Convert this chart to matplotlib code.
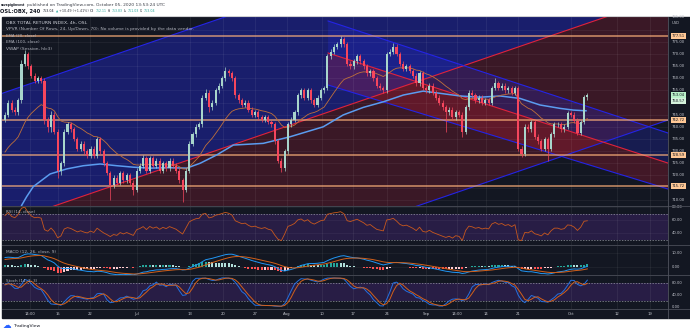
import numpy as np
import matplotlib
matplotlib.use("Agg")
import matplotlib.pyplot as plt
from matplotlib.patches import Polygon

# ---------------- data ----------------
closes = [745, 750, 747, 746, 751, 766, 770, 765, 761, 759,
          760, 759, 743, 740, 745, 738, 722, 725, 738, 741,
          739, 735, 731, 733, 730, 728, 731, 728, 735, 730,
          725, 721, 716, 719, 717, 721, 718, 720, 717, 714,
          722, 724, 727, 722, 727, 724, 726, 722, 725, 723,
          726, 724, 722, 718, 714, 722, 733, 737, 740, 741,
          752, 754, 748, 750, 755, 757, 760, 763, 762, 760,
          753, 751, 749, 750, 747, 745, 746, 744, 743, 744,
          742, 741, 734, 726, 723, 730, 741, 743, 746, 753,
          755, 752, 755, 751, 749, 752, 755, 756, 769, 771,
          773, 774, 776, 774, 766, 765, 767, 769, 767, 765,
          762, 763, 760, 757, 756, 755, 770, 771, 773, 770,
          766, 764, 765, 763, 761, 758, 762, 756, 755, 757,
          754, 752, 750, 748, 746, 747, 744, 746, 745, 738,
          748, 754, 753, 751, 752, 750, 751, 750, 756, 758,
          756, 757, 755, 756, 754, 756, 731, 729, 740, 739,
          742, 736, 734, 731, 735, 731, 737, 741, 741, 739,
          740, 745.5, 745, 742.5, 737.5, 742, 752.11, 753.04]
first_open = 743.0
up_wick = [1, 1, 1, 1, 1, 1.5, 1.5, 1, 1, 1,
           1, 1, 1, 1, 1.5, 1, 1, 1, 1, 1,
           1, 1, 1, 1, 1, 1, 1, 1, 1, 1,
           1, 1, 1, 1, 1, 1, 1, 1, 1, 1,
           1, 1, 1.5, 1, 1, 1, 1, 1, 1, 1,
           1, 1, 1, 1, 1, 1, 1, 1, 1, 1,
           1, 1.5, 1, 1, 1, 1, 1, 1.5, 1, 1,
           1, 1, 1, 1, 1, 1, 1, 1, 1, 1,
           1, 1, 1, 1, 1, 1, 1, 1, 1, 1,
           1, 1, 1, 1, 1, 1, 1, 1, 1, 1,
           1, 1, 1.2, 1, 1, 1, 1, 1, 1, 1,
           1, 1, 1, 1, 1, 1, 1, 1, 1.5, 1,
           1, 1, 1, 1, 1, 1, 1, 1, 1, 1,
           1, 1, 1, 1, 1, 1, 1, 1, 1, 1,
           1, 1, 1, 1, 1, 1, 1, 1, 1, 2,
           1, 1, 1, 1, 1, 1, 1, 1, 1, 1,
           1, 1, 1, 1, 1, 1, 1, 1, 1, 1,
           1, 1, 1, 1, 1, 1, 1, 0.79]
dn_wick = [1, 1, 1, 1, 1, 1, 1, 1, 1, 1,
           1, 1, 2, 2, 2, 1, 3, 2, 1, 1,
           1, 1, 1, 1, 1, 1, 1, 1, 1, 1,
           1, 1, 6, 1, 1, 1, 1, 1, 1, 2,
           1, 1, 1, 1, 1, 1, 1, 1, 1, 1,
           1, 1, 1, 1, 5, 1, 1, 1, 1, 1,
           1, 1, 2, 1, 1, 1, 1, 1, 1, 1,
           1, 1, 1, 1, 1, 1, 1, 1, 1, 1,
           1, 1, 1, 1, 1.5, 1, 1, 1, 1, 1,
           1, 1, 1, 1, 1, 1, 1, 1, 1, 1,
           1, 1, 1, 1, 1, 1, 1, 1, 1, 1,
           1, 1, 1, 1, 1, 1, 1, 1, 1, 1,
           1, 1, 1, 1, 1, 1, 1, 1, 1, 1,
           1, 1, 1, 1, 8, 1, 1, 1, 1, 2,
           1, 1, 1, 1, 1, 1, 1, 1, 1, 1,
           1, 1, 1, 1, 1, 1, 1, 1.5, 1, 1,
           1, 1, 1, 1, 1, 5, 1, 1, 1, 1,
           1, 1, 1, 1, 1, 1, 1, 1.08]

ema100_bar = [3.5, 5.1, 6.6, 8.6, 13.7, 18.8, 23.8, 28.9, 34.0, 39.0, 44.1, 49.1,
              55.2, 59.3, 64.3, 69.4, 78.5, 86.6, 96.7, 102.8, 108.9, 115.0, 121.1,
              127.1, 132.2, 138.3, 144.4, 150.5, 156.5, 162.6, 168.7, 172.7, 176.6]
ema100_val = [702.5, 707.8, 711.3, 715.4, 720.6, 722.7, 724.0, 724.7, 724.0, 723.4, 723.0, 723.2,
              723.0, 725.0, 728.4, 732.5, 733.2, 735.9, 740.0, 744.9, 748.0, 750.3, 753.1,
              754.7, 753.8, 752.7, 752.2, 752.7, 751.7, 749.0, 747.6, 746.9, 746.6]

ema20_seed = 728.0
ema12_seed, ema26_seed, signal_seed = 740.0, 733.0, 5.0
rsi_gain_seed, rsi_loss_seed = 1.5, 0.8

levels = [777.51, 742.72, 728.59, 715.72]

asc_x = [-2, 203]
asc_upper = [753.27, 848.37]
asc_mid = [699.57, 794.67]
asc_lower = [648.37, 743.47]

desc_x = [98.2, 203]
desc_upper = [783.56, 736.80]
desc_mid = [770.39, 724.44]
desc_lower = [757.22, 713.80]

tick_pos = [7.6, 16.1, 25.8, 40.1, 56.2, 66.3, 76.0, 85.7, 96.4, 105.8,
            116.1, 128.0, 137.4, 146.2, 155.9, 172.0, 186.0, 196.0]
tick_lab = ['14:00', '15', '22', 'Jul', '13', '20', '27', 'Aug', '10', '17',
            '24', 'Sep', '14:00', '14', '21', 'Oct', '12', '19']

price_labels = [785, 775, 770, 765, 760, 755, 745, 740, 735, 730, 725, 720, 710]
price_grid = list(range(710, 790, 5))
rsi_labels = [80, 60, 40]
macd_labels = [10, 0]
stoch_labels = [80, 40, 0]

# ---------------- derived series ----------------
c = np.array(closes, float)
n = len(c)
idx = np.arange(n)
o = np.concatenate([[first_open], c[:-1]])
h = np.maximum(o, c) + np.array(up_wick)
l = np.minimum(o, c) - np.array(dn_wick)

def ema(x, span, seed):
    a = 2.0 / (span + 1)
    out = np.empty(len(x)); v = seed
    for i, xv in enumerate(x):
        v = a * xv + (1 - a) * v
        out[i] = v
    return out

ema20 = ema(c, 20, ema20_seed)
macd = ema(c, 12, ema12_seed) - ema(c, 26, ema26_seed)
signal = ema(macd, 9, signal_seed)
hist = macd - signal

ag, al = rsi_gain_seed, rsi_loss_seed
rsi = np.empty(n)
prev = first_open
for i in range(n):
    d = c[i] - prev; prev = c[i]
    ag = (ag * 13 + max(d, 0)) / 14
    al = (al * 13 + max(-d, 0)) / 14
    rsi[i] = 100 - 100 / (1 + ag / al)

raw = np.empty(n)
for i in range(n):
    lo = l[max(0, i - 13):i + 1].min(); hi = h[max(0, i - 13):i + 1].max()
    raw[i] = 100 * (c[i] - lo) / (hi - lo)
def sma(x, k):
    return np.array([x[max(0, i - k + 1):i + 1].mean() for i in range(len(x))])
stk = sma(raw, 3)
std = sma(stk, 3)

# ---------------- figure ----------------
W, H = 690, 332
fig = plt.figure(figsize=(W / 100, H / 100), dpi=100)
fig.patch.set_facecolor('white')
BG = '#131722'
bgrect = plt.Rectangle((2 / W, 1 - 318 / H), 688 / W, 301 / H,
                       transform=fig.transFigure, color=BG, zorder=-5)
fig.add_artist(bgrect)

X0, X1 = 2, 668
def add_ax(y0, y1):
    ax = fig.add_axes([X0 / W, 1 - y1 / H, (X1 - X0) / W, (y1 - y0) / H])
    ax.set_facecolor(BG)
    ax.set_zorder(1)
    for s in ax.spines.values():
        s.set_visible(False)
    ax.set_xticks([]); ax.set_yticks([])
    ax.set_xlim(-0.912, 201.52)
    for tp in tick_pos:
        ax.axvline(tp, color='white', alpha=0.07, lw=0.6, zorder=1.5)
    return ax

ax = add_ax(17, 205.5)
ax.set_ylim(707.63, 785.2)
ax_r = add_ax(205.5, 244.5); ax_r.set_ylim(22.8, 82.8)
ax_m = add_ax(244.5, 275); ax_m.set_ylim(-6.2, 16.6)
ax_s = add_ax(275, 308.5); ax_s.set_ylim(-4, 107.7)

def poly(xs, top, bot, color, alpha):
    pts = [(xs[0], top[0]), (xs[1], top[1]), (xs[1], bot[1]), (xs[0], bot[0])]
    ax.add_patch(Polygon(pts, closed=True, facecolor=color, alpha=alpha, lw=0, zorder=1))

BLUE_F = (36/255, 44/255, 230/255)
RED_F = (1.0, 30/255, 60/255)
poly(asc_x, asc_upper, asc_mid, BLUE_F, 0.38)
poly(asc_x, asc_mid, asc_lower, RED_F, 0.17)
poly(desc_x, desc_upper, desc_mid, BLUE_F, 0.24)
poly(desc_x, desc_mid, desc_lower, RED_F, 0.2)

for g in price_grid:
    ax.axhline(g, color='white', alpha=0.06, lw=0.6, zorder=1.5)

BL, RD = '#2424e6', '#e0223c'
ax.plot(asc_x, asc_upper, color=BL, lw=0.8, zorder=2)
ax.plot(asc_x, asc_mid, color=RD, lw=0.8, zorder=2)
ax.plot(asc_x, asc_lower, color=BL, lw=0.8, zorder=2)
ax.plot(desc_x, desc_upper, color=BL, lw=0.8, zorder=2)
ax.plot(desc_x, desc_mid, color=RD, lw=0.8, zorder=2)
ax.plot(desc_x, desc_lower, color=BL, lw=0.8, zorder=2)

for lv in levels:
    ax.axhline(lv, color='#ffb27a', alpha=0.78, lw=1.1, zorder=3)

ax.plot(ema100_bar, ema100_val, color='#5b9cf0', lw=1.1, zorder=4)
ax.plot(idx, ema20, color='#c0703a', lw=0.6, zorder=4)

UP, DN = '#a8d5cb', '#f6465d'
cols = [UP if c[i] >= o[i] else DN for i in range(n)]
ax.vlines(idx, l, h, colors=cols, lw=0.5, zorder=5)
ax.bar(idx, np.maximum(np.abs(c - o), 0.3), bottom=np.minimum(o, c), width=0.64,
       color=cols, lw=0, zorder=5.1)

# RSI
PUR = (106/255, 47/255, 176/255)
ax_r.axhspan(30, 70, color=PUR, alpha=0.25, lw=0, zorder=1)
for v in (70, 30):
    ax_r.axhline(v, color='#9598a1', lw=0.5, ls=(0, (2, 2)), zorder=2)
for v in rsi_labels:
    ax_r.axhline(v, color='white', alpha=0.05, lw=0.6)
ax_r.plot(idx, rsi, color='#c8581e', lw=0.6, zorder=3)

# MACD
hcols = []
for i in range(n):
    pv = hist[i - 1] if i > 0 else hist[i]
    if hist[i] >= 0:
        hcols.append('#26a69a' if hist[i] >= pv else '#b2dfdb')
    else:
        hcols.append('#ffcdd2' if hist[i] > pv else '#ff5252')
for v in macd_labels:
    ax_m.axhline(v, color='white', alpha=0.05, lw=0.6)
ax_m.bar(idx, hist, width=0.62, color=hcols, lw=0, zorder=2)
ax_m.plot(idx, macd, color='#2196f3', lw=0.7, zorder=3)
ax_m.plot(idx, signal, color='#d2601a', lw=0.7, zorder=3)

# Stoch
ax_s.axhspan(20, 80, color=PUR, alpha=0.25, lw=0, zorder=1)
for v in (80, 20):
    ax_s.axhline(v, color='#9598a1', lw=0.5, ls=(0, (2, 2)), zorder=2)
ax_s.plot(idx, stk, color='#2470e0', lw=0.7, zorder=3)
ax_s.plot(idx, std, color='#d2601a', lw=0.7, zorder=3)

# separators and right axis
def hline_px(y, x0=2, x1=690, color='#434651', lw=0.7):
    fig.add_artist(plt.Line2D([x0 / W, x1 / W], [1 - y / H, 1 - y / H], color=color, lw=lw,
                              transform=fig.transFigure, zorder=5))
for y in (205.5, 244.5, 275, 308.5):
    hline_px(y)
fig.add_artist(plt.Line2D([668 / W, 668 / W], [1 - 318 / H, 1 - 17 / H], color='#50535e', lw=0.6,
                          transform=fig.transFigure, zorder=5))

LBL = '#c3c6ce'
AX_FS = 2.7
def rlab(a, v, s, fc=None, tc=LBL):
    kw = {}
    if fc:
        kw['bbox'] = dict(boxstyle='square,pad=0.25', fc=fc, ec='none')
    a.text(1 + 4 / 666, v, s, transform=a.get_yaxis_transform(), ha='left', va='center',
           fontsize=AX_FS, color=tc, zorder=10, clip_on=False, **kw)

for v in price_labels:
    rlab(ax, v, f'{v:.2f}')
for lv in levels:
    rlab(ax, lv, f'{lv:.2f}', fc='#ffc896', tc='#131722')
rlab(ax, c[-1], f'{c[-1]:.2f}', fc='#b9f0c9', tc='#131722')
rlab(ax, 750.57, '750.57', fc='#d4f2dc', tc='#131722')
for v in rsi_labels:
    rlab(ax_r, v, f'{v:.2f}')
for v in macd_labels:
    rlab(ax_m, v, f'{v:.2f}')
for v in stoch_labels:
    rlab(ax_s, v, f'{v:.2f}')

for tp, tl in zip(tick_pos, tick_lab):
    ax_s.text(tp, -0.164, tl, transform=ax_s.get_xaxis_transform(), ha='center', va='center',
              fontsize=AX_FS, color=LBL, clip_on=False)

# texts
fits = []
def ptext(x, y, s, w=None, size=3.0, **kw):
    t = fig.text(x / W, 1 - y / H, s, ha='left', va='center', fontsize=size, zorder=20, **kw)
    if w:
        fits.append((t, w))
    return t

ptext(668 + 4, 22.5, 'USD', size=AX_FS, color=LBL)

DK = '#131722'
TE = '#26a69a'
ptext(1.0, 5.0, 'savepigiinvest', 25, weight='bold', color=DK)
ptext(27.5, 5.0, 'published on TradingView.com, October 05, 2020 13:53:24 UTC', 135, color='#3c3f48')
ptext(0.5, 11.3, 'OSL:OBX, 240', 39.5, weight='bold', color=DK)
ptext(43, 11.3, '753.04', 11, color=DK)
ptext(55.5, 11.3, '▲', 2.2, color=TE)
ptext(59, 11.3, '+10.49 (+1.41%)', 29, color='#3c3f48')
ptext(90, 11.3, 'O:', 4.5, color=DK)
ptext(95.5, 11.3, '752.11', 10.5, color=TE)
ptext(107.5, 11.3, 'H:', 3.2, color=DK)
ptext(111.5, 11.3, '753.83', 11, color=TE)
ptext(124, 11.3, 'L:', 2.8, color=DK)
ptext(127.5, 11.3, '751.03', 11, color=TE)
ptext(140, 11.3, 'C:', 3.2, color=DK)
ptext(144, 11.3, '753.04', 11, color=TE)

ptext(6, 22.7, 'OBX TOTAL RETURN INDEX, 4h, OSL', 79, color='#d1d4dc')
ptext(6, 29.2, 'VPVR (Number Of Rows, 24, Up/Down, 70): No volume is provided by the data vendor.', 188, color='#b2b5be')
ptext(6, 35.8, 'EMA (20, close)', 30, color='#b2b5be')
ptext(6, 42.3, 'EMA (100, close)', 32.5, color='#b2b5be')
ptext(6, 48.7, 'VWAP (Session, hlc3)', 45, color='#b2b5be')
ptext(6, 212, 'RSI (14, close)', 29, color='#b2b5be')
ptext(6, 252, 'MACD (12, 26, close, 9)', 49, color='#b2b5be')
ptext(6, 281, 'Stoch (14, 3, 3)', 31, color='#b2b5be')

ptext(2.5, 326, '☁', 8.5, color='#2962ff')
ptext(12.7, 326, 'TradingView', 26.6, color=DK)

r = fig.canvas.get_renderer()
for t, w in fits:
    bb = t.get_window_extent(renderer=r)
    if bb.width > 0:
        t.set_fontsize(t.get_fontsize() * w / bb.width)

fig.savefig('out.png', dpi=100, facecolor='white')
